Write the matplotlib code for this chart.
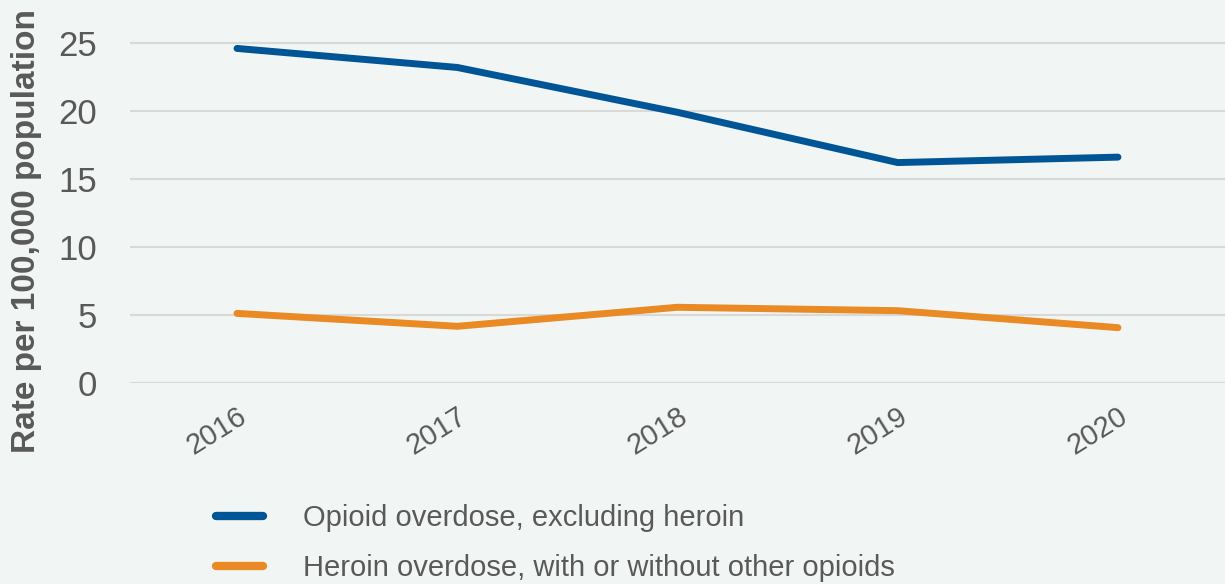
import matplotlib
matplotlib.use("Agg")
import matplotlib.pyplot as plt
from matplotlib import font_manager

years = [2016, 2017, 2018, 2019, 2020]
opioid_excl_heroin = [24.6, 23.2, 19.9, 16.2, 16.6]
heroin = [5.1, 4.15, 5.55, 5.3, 4.05]
series_labels = ["Opioid overdose, excluding heroin",
                 "Heroin overdose, with or without other opioids"]
yticks = [0, 5, 10, 15, 20, 25]

names = {f.name for f in font_manager.fontManager.ttflist}
fam = "Liberation Sans Narrow" if "Liberation Sans Narrow" in names else "Liberation Sans"
plt.rcParams["font.family"] = [fam, "DejaVu Sans"]

bg = "#F1F6F4"
txt = "#595959"
fig = plt.figure(figsize=(12.25, 5.84), dpi=100, facecolor=bg)
ax = fig.add_axes([0.1061, 0.3447, 0.8939, 0.6096], facecolor=bg)

ax.plot(years, opioid_excl_heroin, color="#005596", lw=5, solid_capstyle="round",
        label=series_labels[0], zorder=3)
ax.plot(years, heroin, color="#E98A24", lw=5, solid_capstyle="round",
        label=series_labels[1], zorder=3)

ax.set_xlim(2015.514, 2020.486)
ax.set_ylim(0, 26.2)
ax.set_yticks(yticks)
ax.set_yticklabels([str(v) for v in yticks])
ax.set_xticks(years)
ax.set_xticklabels([str(y) for y in years], rotation=32, ha="right", rotation_mode="anchor")
ax.grid(axis="y", color="#D9D9D9", lw=1.5)
ax.set_axisbelow(True)
for s in ax.spines.values():
    s.set_visible(False)
ax.tick_params(axis="both", length=0, colors=txt)
ax.tick_params(axis="y", labelsize=25, pad=24)
ax.tick_params(axis="x", labelsize=21, pad=14)

fig.text(0.022, 0.605, "Rate per 100,000 population", rotation=90, ha="center", va="center",
         fontsize=24, fontweight="bold", color=txt)

leg = fig.legend(loc="center left", bbox_to_anchor=(0.1763, 0.070), frameon=False,
                 fontsize=21, labelcolor=txt, handlelength=1.6, handletextpad=1.4,
                 labelspacing=0.75, borderpad=0, borderaxespad=0)
for h in leg.get_lines():
    h.set_linewidth(6)

fig.savefig("out.png", dpi=100, facecolor=bg)
